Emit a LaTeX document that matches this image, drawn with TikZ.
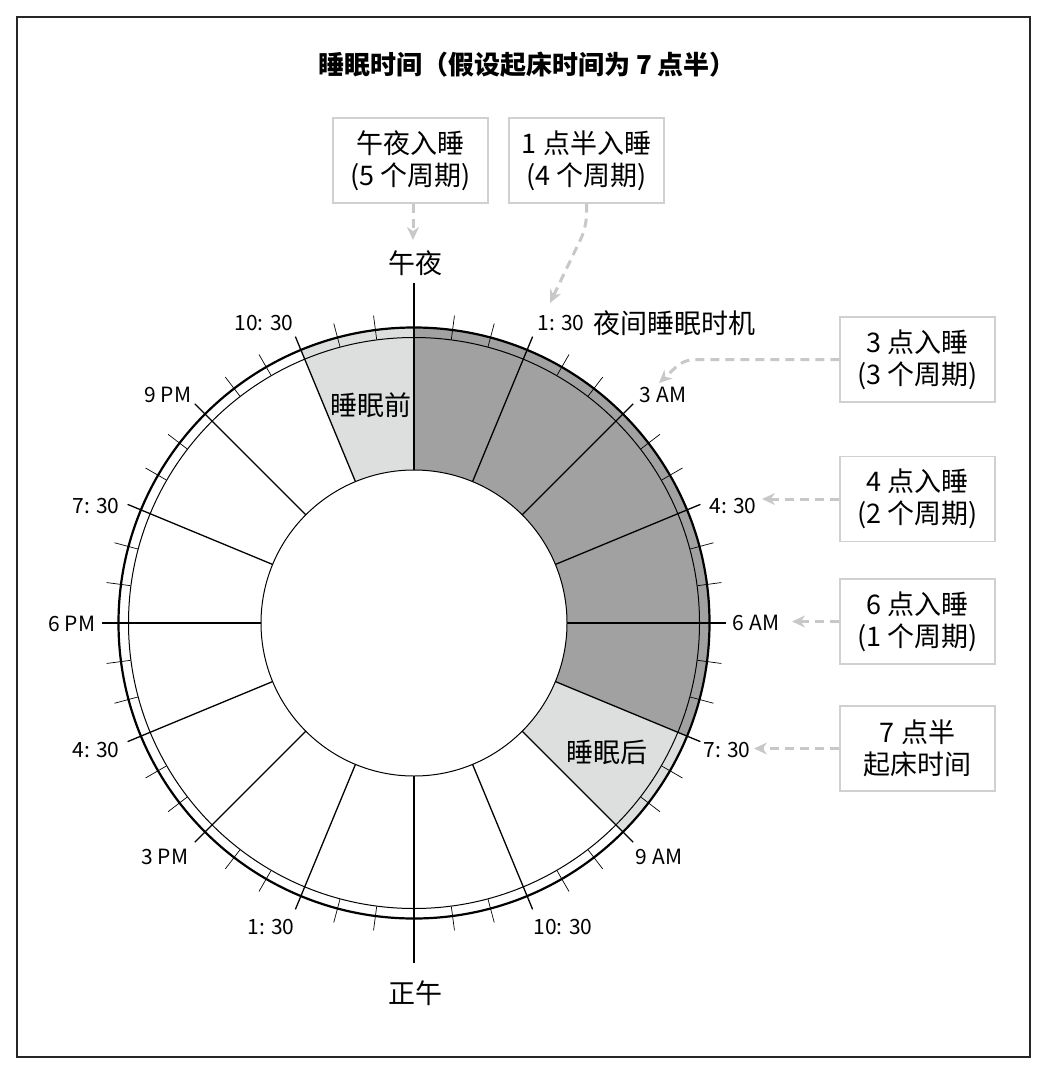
\documentclass[tikz,border=0pt]{standalone}
\usepackage{fontspec}
\setmainfont{Noto Sans CJK SC}
\usetikzlibrary{arrows.meta,calc}
\definecolor{darkfill}{RGB}{161,161,161}
\definecolor{lightfill}{RGB}{221,222,222}
\definecolor{arrowgray}{RGB}{200,200,200}
\definecolor{boxgray}{RGB}{208,208,208}
\tikzset{
  box/.style={draw=boxgray, line width=1.4pt, fill=white, minimum width=155pt, minimum height=85pt, align=center, font=\fontsize{27}{32}\selectfont, inner sep=0pt},
  conn/.style={draw=arrowgray, line width=3pt, dash pattern=on 9pt off 6pt, -{Stealth[length=13pt,width=12pt]}},
  tlabel/.style={font=\fontsize{21}{24}\selectfont, inner sep=0pt},
  clabel/.style={font=\fontsize{27}{30}\selectfont, inner sep=0pt},
  secline/.style={line width=1.3pt},
  ticka/.style={line width=0.7pt},
}
\begin{document}
\begin{tikzpicture}[x=1pt,y=1pt]
\useasboundingbox (0,0) rectangle (1046,-1075);
\draw[line width=1.5pt, black!85] (17,-17) rectangle (1030,-1057);

\node[font=\bfseries\fontsize{26}{30}\selectfont, inner sep=0pt] (title) at (527,-65) {睡眠时间（假设起床时间为 7 点半）};

% clock
\begin{scope}[shift={(414,-623)}]
  \fill[darkfill] (90:153) arc[start angle=90, end angle=-22.5, radius=153] -- (-22.5:295.5) arc[start angle=-22.5, end angle=90, radius=295.5] -- cycle;
  \fill[lightfill] (112.5:153) arc[start angle=112.5, end angle=90, radius=153] -- (90:295.5) arc[start angle=90, end angle=112.5, radius=295.5] -- cycle;
  \fill[lightfill] (-22.5:153) arc[start angle=-22.5, end angle=-45, radius=153] -- (-45:295.5) arc[start angle=-45, end angle=-22.5, radius=295.5] -- cycle;
  \draw[line width=1pt] (0,0) circle[radius=153];
  \draw[line width=1pt] (0,0) circle[radius=285.5];
  \draw[line width=2.2pt] (0,0) circle[radius=295.5];
  \foreach \k in {0,...,15} {
    \draw[secline] ({90-\k*22.5}:153) -- ({90-\k*22.5}:310);
    \foreach \j in {1,2} {
      \draw[ticka] ({90-\k*22.5-\j*7.5}:286) -- ({90-\k*22.5-\j*7.5}:310);
    }
  }
  \draw[line width=2.6pt] (90:285) -- (90:340);
  \draw[line width=2.6pt] (-90:285) -- (-90:340);
  \draw[line width=2.6pt] (0:285) -- (0:312);
  \draw[line width=2.6pt] (180:285) -- (180:312);
\end{scope}

% clock labels
\node[clabel] (midnight) at (415,-263) {午夜};
\node[clabel] (noon) at (415,-993) {正午};
\node[tlabel] (l0130a) at (561,-323) {1: 30};
\node[clabel] (window) at (674,-323) {夜间睡眠时机};
\node[tlabel] (l0300) at (663,-395) {3 AM};
\node[tlabel] (l0430a) at (733,-506) {4: 30};
\node[tlabel] (l0600) at (756,-623) {6 AM};
\node[tlabel] (l0730a) at (727,-750) {7: 30};
\node[tlabel] (l0900) at (659,-857) {9 AM};
\node[tlabel] (l1030a) at (563,-927) {10: 30};
\node[tlabel] (l1330) at (271,-927) {1: 30};
\node[tlabel] (l1500) at (165,-857) {3 PM};
\node[tlabel] (l1630) at (96,-750) {4: 30};
\node[tlabel] (l1800) at (72,-624) {6 PM};
\node[tlabel] (l1930) at (96,-506) {7: 30};
\node[tlabel] (l2100) at (168,-395) {9 PM};
\node[tlabel] (l2230) at (264,-323) {10: 30};
\node[clabel] (before) at (371,-405) {睡眠前};
\node[clabel] (after) at (607,-752) {睡眠后};

% callout boxes
\node[box] (b1) at (410.5,-160.5) {午夜入睡\\(5 个周期)};
\node[box] (b2) at (586.5,-160.5) {1 点半入睡\\(4 个周期)};
\node[box] (b3) at (917.5,-359.5) {3 点入睡\\(3 个周期)};
\node[box] (b4) at (917.5,-499) {4 点入睡\\(2 个周期)};
\node[box] (b6) at (917.5,-621.5) {6 点入睡\\(1 个周期)};
\node[box] (b7) at (917.5,-748.5) {7 点半\\起床时间};

\coordinate (t1) at (413,-240);
\coordinate (t2) at (550,-303);
\coordinate (c2) at (587,-226);
\coordinate (t3) at (659,-383);
\coordinate (c3) at (684,-359.5);
\coordinate (t4) at (762,-499);
\coordinate (t6) at (792,-621.5);
\coordinate (t7) at (754,-748.5);

\draw[conn] (b1.south -| t1) -- (t1);
\draw[conn, rounded corners=14pt] (b2.south) -- (c2) -- (t2);
\draw[conn, rounded corners=10pt] (b3.west) -- (c3) -- (t3);
\draw[conn] (b4.west) -- (t4);
\draw[conn] (b6.west) -- (t6);
\draw[conn] (b7.west) -- (t7);
\end{tikzpicture}
\end{document}
